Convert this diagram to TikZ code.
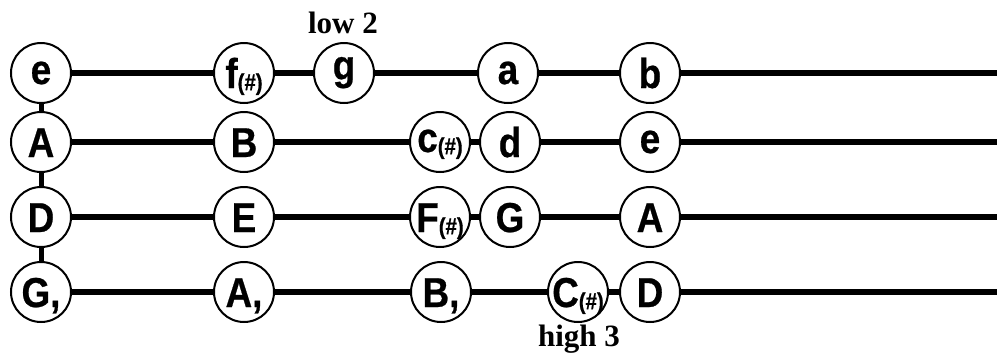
\documentclass[tikz,border=0pt]{standalone}
\usepackage{graphicx}
\usepackage{fontspec}
\setmainfont{Liberation Sans}
\newfontfamily\notefont{Liberation Sans Bold}[FakeBold=0.6]
\newfontfamily\labelfont{Liberation Serif}
\begin{document}
\begin{tikzpicture}[x=1pt,y=-1pt,
  note/.style={circle,draw=black,fill=white,line width=2pt,minimum size=60pt,inner sep=0pt,
    font=\notefont\fontsize{38}{38}\selectfont},
  string/.style={line width=6pt,black},
  nut/.style={line width=5pt,black},
  tag/.style={font=\labelfont\fontsize{31}{31}\selectfont\bfseries,anchor=base,inner sep=0pt}]
\newcommand{\sh}{\raisebox{-2pt}{\fontsize{21}{21}\selectfont(\#)}}
% #1 = how far the baseline lies below the circle centre
\newcommand{\nt}[2][15pt]{\smash{\raisebox{-#1}{\scalebox{0.97}[1.1]{#2}}}}
\useasboundingbox (0,0) rectangle (997,354);
% coordinates of string ends
\coordinate (endE) at (997,73);
\coordinate (endA) at (997,142);
\coordinate (endD) at (997,217);
\coordinate (endG) at (997,292);
% E string
\node[note] (e0) at (41,73) {\nt[11pt]{e}};
\node[note] (e1) at (244,73) {\nt[15pt]{f\sh}};
\node[note] (e2) at (344,73) {\nt[6.5pt]{g}};
\node[note] (e3) at (508,73) {\nt[11pt]{a}};
\node[note] (e4) at (650,73) {\nt[15pt]{b}};
% A string
\node[note] (a0) at (41,142) {\nt{A}};
\node[note] (a1) at (244,142) {\nt{B}};
\node[note] (a2) at (440,142) {\nt[10pt]{c\sh}};
\node[note] (a3) at (510,142) {\nt[15pt]{d}};
\node[note] (a4) at (650,142) {\nt[11pt]{e}};
% D string
\node[note] (d0) at (41,217) {\nt{D}};
\node[note] (d1) at (244,217) {\nt{E}};
\node[note] (d2) at (440,217) {\nt{F\sh}};
\node[note] (d3) at (510,217) {\nt{G}};
\node[note] (d4) at (650,217) {\nt{A}};
% G string
\node[note] (g0) at (41,292) {\nt{G,}};
\node[note] (g1) at (244,292) {\nt{A,}};
\node[note] (g2) at (441,292) {\nt{B,}};
\node[note] (g3) at (578,292) {\nt{C\sh}};
\node[note] (g4) at (650,292) {\nt{D}};
% labels
\node[tag] (low) at (343,33) {low 2};
\node[tag] (high) at (579,346) {high 3};
% connectors
\foreach \s/\e in {e/E,a/A,d/D,g/G}{
  \draw[string] (\s0) -- (\s1);
  \draw[string] (\s1) -- (\s2);
  \draw[string] (\s2) -- (\s3);
  \draw[string] (\s3) -- (\s4);
  \draw[string] (\s4) -- (end\e);
}
\draw[nut] (e0) -- (a0);
\draw[nut] (a0) -- (d0);
\draw[nut] (d0) -- (g0);
\end{tikzpicture}
\end{document}
